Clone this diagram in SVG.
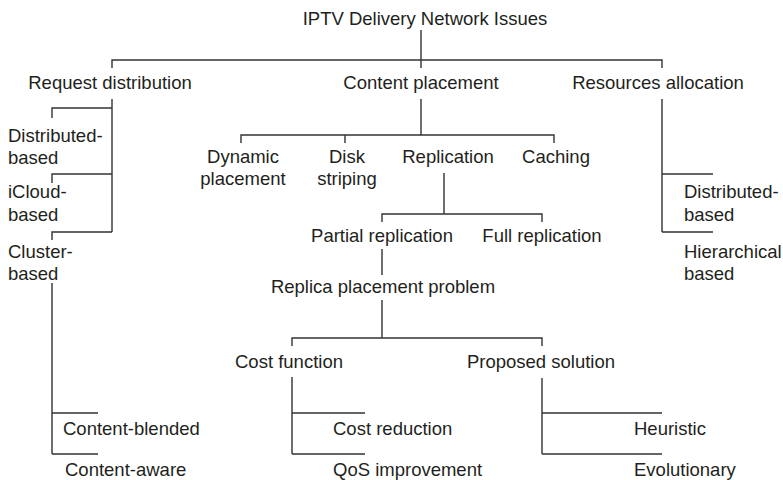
<svg xmlns="http://www.w3.org/2000/svg" width="783" height="480" viewBox="0 0 783 480">
<style>
text{font-family:"Liberation Sans",Arial,sans-serif;font-size:18.5px;fill:#231f20}
.c{text-anchor:middle}
.conn path{fill:none;stroke:#333;stroke-width:1.4}
</style>
<rect width="783" height="480" fill="#fff"/>
<g id="connectors" class="conn">
<path d="M421,30V60M112,68V60H662V68M421,60V68"/>
<path d="M112,99V232M52,118V108H112M52,183V174H112M52,240V232H112"/>
<path d="M52,283V454M52,413H98M52,454H98"/>
<path d="M421,99V135M241,143V135H554V143M345,135V143"/>
<path d="M444,173V214M382,222V214H542V222"/>
<path d="M382,249V275M382,300V338M292,346V338H542V346"/>
<path d="M292,377V454M292,413H365M292,454H365"/>
<path d="M542,378V454M542,413H662M542,454H662"/>
<path d="M662,99V232M662,174H713M662,232H713"/>
</g>
<g id="root"><text class="c" x="425" y="25">IPTV Delivery Network Issues</text></g>
<g id="request"><text class="c" x="110" y="89">Request distribution</text></g>
<g id="content"><text class="c" x="421" y="89">Content placement</text></g>
<g id="resources"><text class="c" x="658" y="89">Resources allocation</text></g>
<g id="rd-distributed"><text x="8" y="142">Distributed-</text><text x="8" y="164">based</text></g>
<g id="rd-icloud"><text x="8" y="198">iCloud-</text><text x="8" y="221">based</text></g>
<g id="rd-cluster"><text x="8" y="258">Cluster-</text><text x="8" y="280">based</text></g>
<g id="content-blended"><text x="63" y="435">Content-blended</text></g>
<g id="content-aware"><text x="65" y="476">Content-aware</text></g>
<g id="dynamic"><text class="c" x="243" y="163">Dynamic</text><text class="c" x="243" y="185">placement</text></g>
<g id="disk"><text class="c" x="347" y="163">Disk</text><text class="c" x="347" y="185">striping</text></g>
<g id="replication"><text class="c" x="448" y="163">Replication</text></g>
<g id="caching"><text class="c" x="556" y="163">Caching</text></g>
<g id="partial"><text class="c" x="382" y="242">Partial replication</text></g>
<g id="full"><text class="c" x="542" y="242">Full replication</text></g>
<g id="replica-problem"><text class="c" x="383" y="293">Replica placement problem</text></g>
<g id="cost-function"><text class="c" x="289" y="368">Cost function</text></g>
<g id="proposed"><text class="c" x="541" y="368">Proposed solution</text></g>
<g id="cost-reduction"><text x="333" y="435">Cost reduction</text></g>
<g id="qos"><text x="333" y="476">QoS improvement</text></g>
<g id="heuristic"><text x="634" y="435">Heuristic</text></g>
<g id="evolutionary"><text x="634" y="476">Evolutionary</text></g>
<g id="ra-distributed"><text x="684" y="198">Distributed-</text><text x="684" y="221">based</text></g>
<g id="ra-hierarchical"><text x="684" y="258">Hierarchical</text><text x="684" y="280">based</text></g>
</svg>
